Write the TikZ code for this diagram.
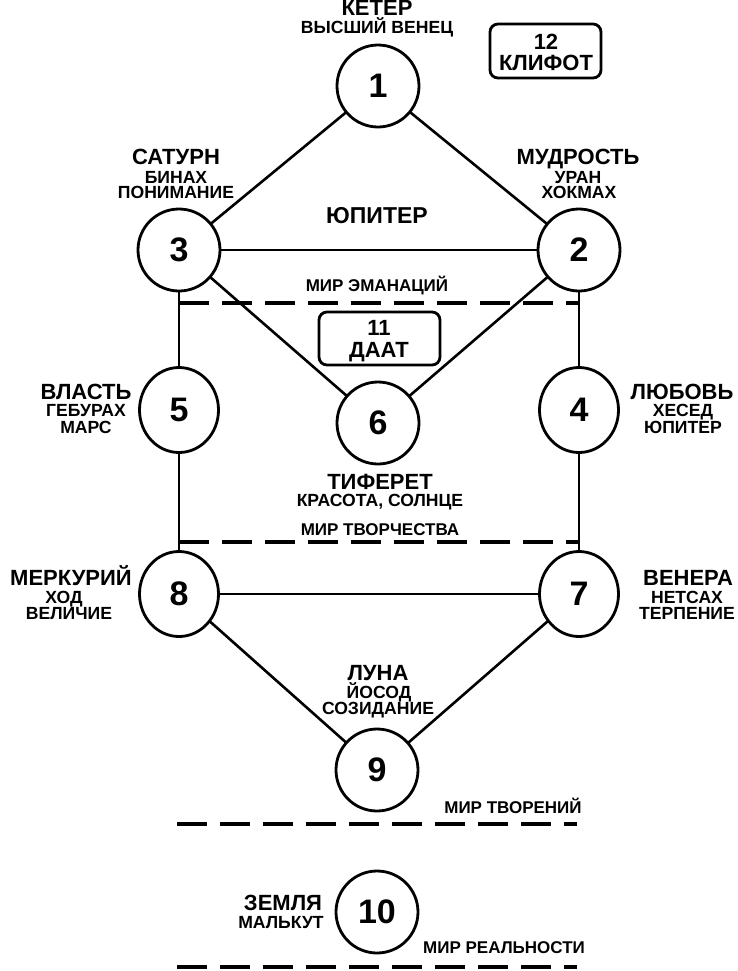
\documentclass[tikz,border=0pt]{standalone}
\usepackage{fontspec}
\setmainfont{Liberation Sans}
\usetikzlibrary{shapes.geometric}
\tikzset{
  sef/.style={circle,draw,line width=1.4pt,minimum size=41pt,inner sep=0pt,outer sep=0pt,font=\bfseries\fontsize{17}{17}\selectfont},
  sefe/.style={ellipse,draw,line width=1.4pt,minimum width=39.5pt,minimum height=42.5pt,inner sep=0pt,outer sep=0pt,font=\bfseries\fontsize{17}{17}\selectfont},
  conn/.style={line width=1.3pt},
  world/.style={line width=2pt,dash pattern=on 15pt off 6.5pt},
  big/.style={inner sep=0pt,anchor=base,font=\bfseries\fontsize{11}{11}\selectfont},
  sub/.style={inner sep=0pt,anchor=base,font=\bfseries\fontsize{8.8}{8.8}\selectfont},
  wtxt/.style={inner sep=0pt,anchor=base,font=\bfseries\fontsize{8.5}{8.5}\selectfont},
  tbox/.style={draw,line width=1.4pt,rounded corners=4pt}
}
\begin{document}
\begin{tikzpicture}[x=0.5pt,y=-0.5pt]
\useasboundingbox (0,0) rectangle (738,971);
% sefirot
\node[sef] (s1) at (378,86) {1};
\node[sef] (s3) at (179,250) {3};
\node[sef] (s2) at (579,250) {2};
\node[sefe] (s5) at (179,410) {5};
\node[sefe] (s4) at (579,410) {4};
\node[sef] (s6) at (378,423) {6};
\node[sefe] (s8) at (179,594) {8};
\node[sefe] (s7) at (579,594) {7};
\node[sef] (s9) at (377,770) {9};
\node[sef] (s10) at (377,912) {10};
% connectors
\draw[conn] (s1) -- (s3);
\draw[conn] (s1) -- (s2);
\draw[conn] (s3) -- (s2);
\draw[conn] (s3) -- (s6);
\draw[conn] (s2) -- (s6);
\draw[conn] (s3) -- (s5);
\draw[conn] (s5) -- (s8);
\draw[conn] (s2) -- (s4);
\draw[conn] (s4) -- (s7);
\draw[conn] (s8) -- (s7);
\draw[conn] (s8) -- (s9);
\draw[conn] (s7) -- (s9);
% world lines
\coordinate (w1a) at (179,303); \coordinate (w1b) at (579,303);
\coordinate (w2a) at (179,542); \coordinate (w2b) at (579,542);
\coordinate (w3a) at (177,824); \coordinate (w3b) at (577,824);
\coordinate (w4a) at (177,967); \coordinate (w4b) at (577,967);
\draw[world] (w1a) -- (w1b);
\draw[world] (w2a) -- (w2b);
\draw[world] (w3a) -- (w3b);
\draw[world] (w4a) -- (w4b);
% boxes
\draw[tbox] (490,24) rectangle (601,78);
\node[big] (t12) at (546,49) {12};
\node[big] (tklif) at (546,70) {КЛИФОТ};
\draw[tbox] (319,312) rectangle (440,365);
\node[big] (t11) at (379,335) {11};
\node[big] (tdaat) at (379,357) {ДААТ};
% labels
\node[big] (lket) at (377,15) {КЕТЕР};
\node[sub] (lket2) at (377,33) {ВЫСШИЙ ВЕНЕЦ};
\node[big] (lsat) at (176,164) {САТУРН};
\node[sub] (lsat2) at (176,183) {БИНАХ};
\node[sub] (lsat3) at (176,198) {ПОНИМАНИЕ};
\node[big] (lmud) at (578,164) {МУДРОСТЬ};
\node[sub] (lmud2) at (578,183) {УРАН};
\node[sub] (lmud3) at (579,198) {ХОКМАХ};
\node[inner sep=0pt,anchor=base,font=\bfseries\fontsize{11.5}{11.5}\selectfont] (ljup) at (377,223) {ЮПИТЕР};
\node[wtxt] (lw1) at (377,291) {МИР ЭМАНАЦИЙ};
\node[big] (lvl) at (86,399) {ВЛАСТЬ};
\node[sub] (lvl2) at (86,416) {ГЕБУРАХ};
\node[sub] (lvl3) at (86,433) {МАРС};
\node[big] (llub) at (682,399) {ЛЮБОВЬ};
\node[sub] (llub2) at (683,416) {ХЕСЕД};
\node[sub] (llub3) at (683,433) {ЮПИТЕР};
\node[big] (ltif) at (380,489) {ТИФЕРЕТ};
\node[sub] (ltif2) at (380,506) {КРАСОТА, СОЛНЦЕ};
\node[wtxt] (lw2) at (380,535) {МИР ТВОРЧЕСТВА};
\node[big] (lmer) at (71,585) {МЕРКУРИЙ};
\node[sub] (lmer2) at (64,603) {ХОД};
\node[sub] (lmer3) at (69,619) {ВЕЛИЧИЕ};
\node[big] (lven) at (688,585) {ВЕНЕРА};
\node[sub] (lven2) at (687,603) {НЕТСАХ};
\node[sub] (lven3) at (687,619) {ТЕРПЕНИЕ};
\node[big] (llun) at (378,680) {ЛУНА};
\node[sub] (llun2) at (379,698) {ЙОСОД};
\node[sub] (llun3) at (378,714) {СОЗИДАНИЕ};
\node[wtxt] (lw3) at (513,813) {МИР ТВОРЕНИЙ};
\node[big] (lzem) at (283,910) {ЗЕМЛЯ};
\node[sub] (lzem2) at (281,928) {МАЛЬКУТ};
\node[wtxt] (lw4) at (504,953) {МИР РЕАЛЬНОСТИ};
\end{tikzpicture}
\end{document}
